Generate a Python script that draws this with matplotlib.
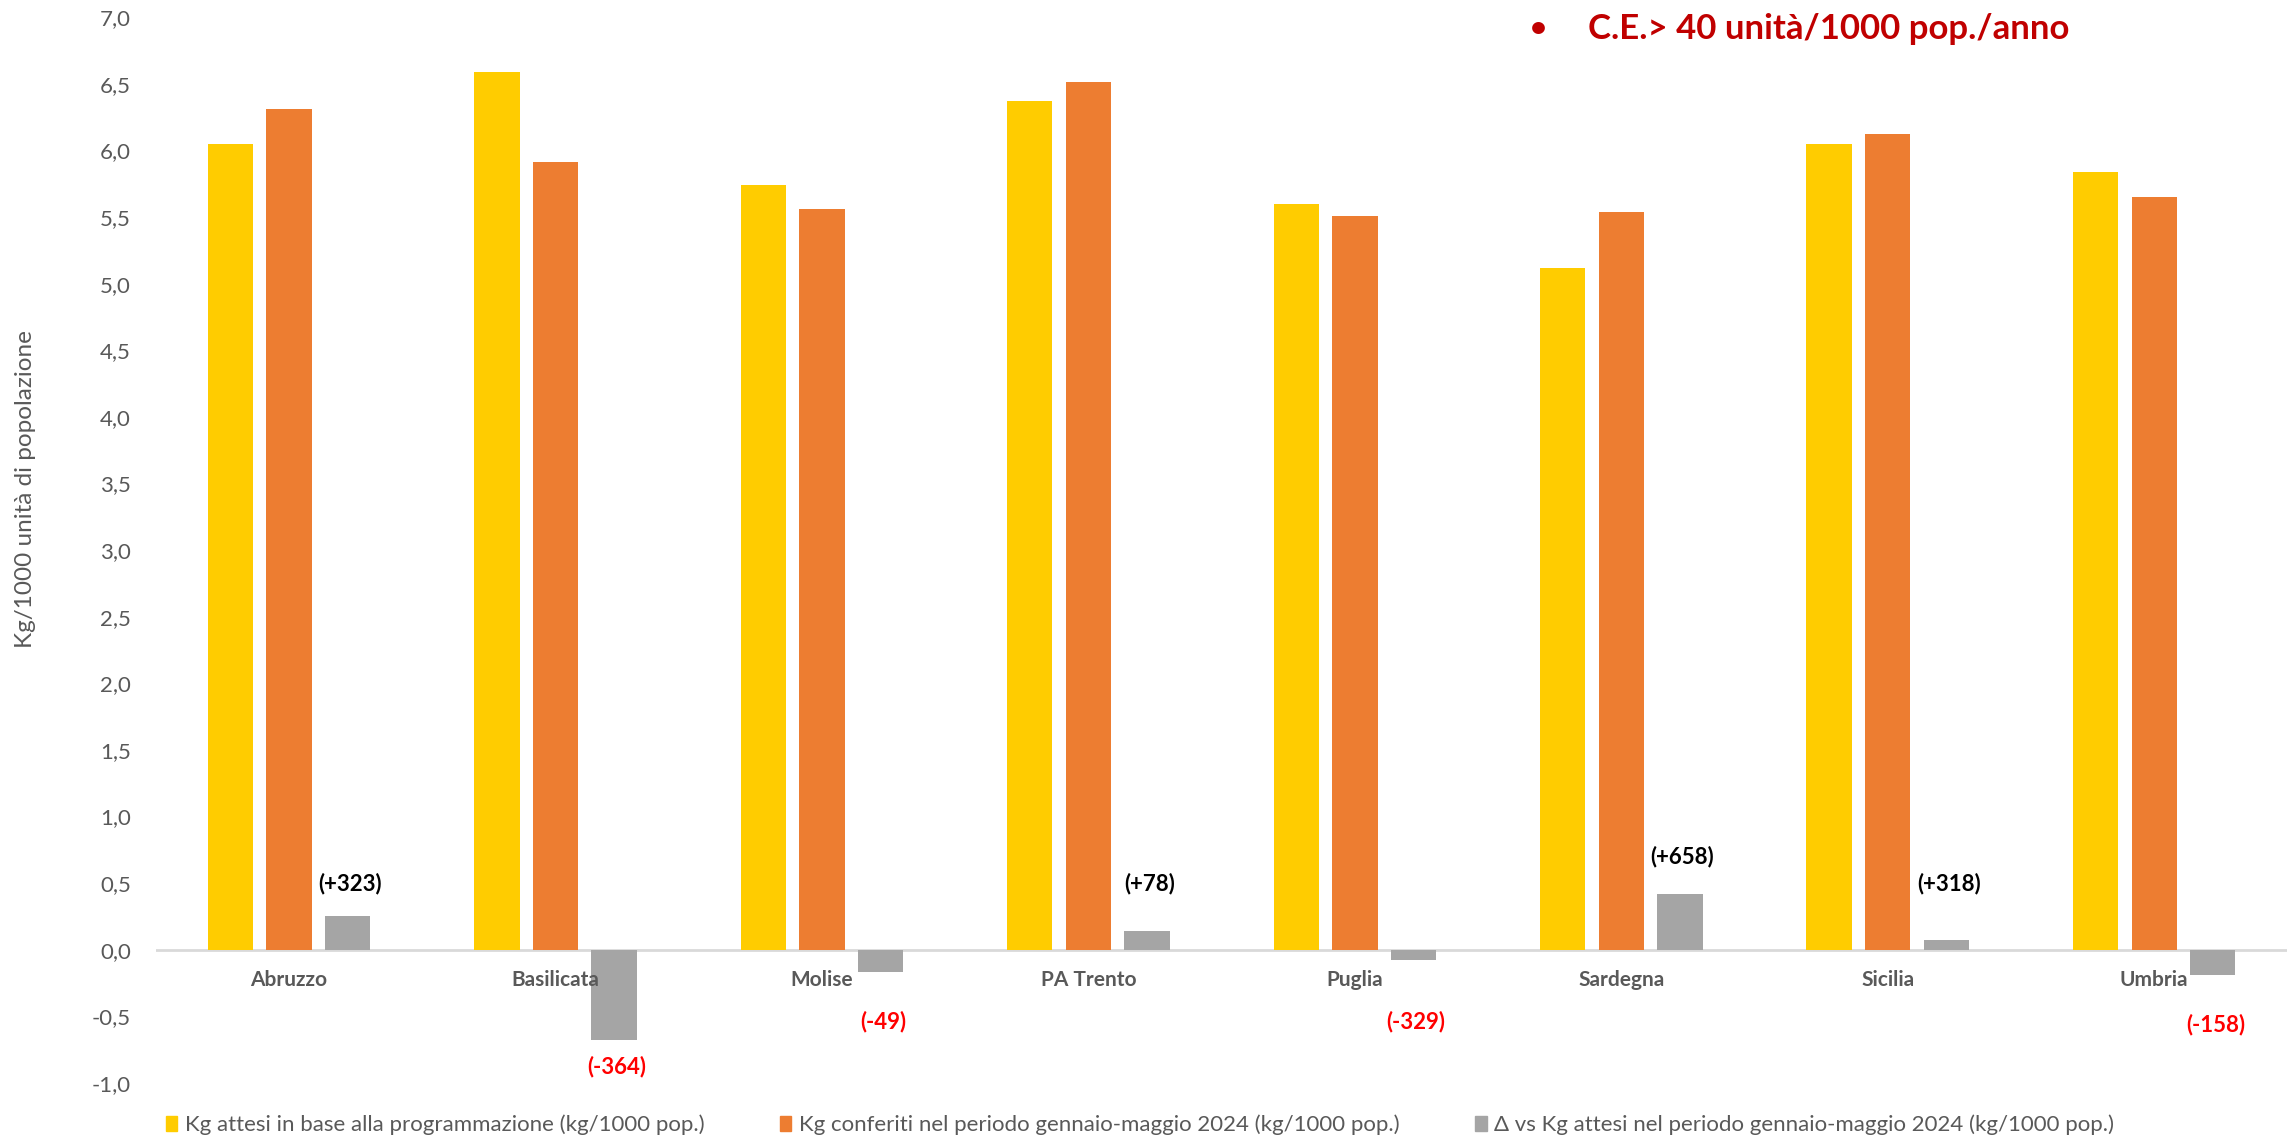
import matplotlib
matplotlib.use("Agg")
import matplotlib.pyplot as plt
from matplotlib.patches import Patch
import numpy as np

# data
regioni = ["Abruzzo", "Basilicata", "Molise", "PA Trento", "Puglia", "Sardegna", "Sicilia", "Umbria"]
kg_attesi = [6.05, 6.59, 5.74, 6.37, 5.60, 5.12, 6.05, 5.84]
kg_conferiti = [6.31, 5.91, 5.56, 6.51, 5.51, 5.54, 6.12, 5.65]
delta = [0.25, -0.68, -0.17, 0.14, -0.08, 0.42, 0.07, -0.19]
delta_labels = ["(+323)", "(-364)", "(-49)", "(+78)", "(-329)", "(+658)", "(+318)", "(-158)"]
delta_label_y = [0.50, -0.88, -0.54, 0.50, -0.54, 0.70, 0.50, -0.56]

serie_nomi = ["Kg attesi in base alla programmazione (kg/1000 pop.)",
              "Kg conferiti nel periodo gennaio-maggio 2024 (kg/1000 pop.)",
              "\u0394 vs Kg attesi nel periodo gennaio-maggio 2024 (kg/1000 pop.)"]
colori = ["#FFCC00", "#ED7D31", "#A5A5A5"]
y_ticks = np.arange(-1.0, 7.01, 0.5)

plt.rcParams['font.family'] = ['Lato', 'DejaVu Sans']

fig = plt.figure(figsize=(22.92, 11.46), dpi=100)
ax = fig.add_axes([0.068, 0.055, 0.93, 0.93])

x = np.arange(len(regioni))
w = 0.17
step = 0.22
for i, serie in enumerate([kg_attesi, kg_conferiti, delta]):
    ax.bar(x + (i - 1) * step, serie, width=w, color=colori[i], zorder=2)

ax.axhline(0, color="#D9D9D9", lw=2, zorder=1)

ax.set_xlim(-0.5, len(regioni) - 0.5)
ax.set_ylim(-1.0, 7.0)
ax.set_yticks(y_ticks)
ax.set_yticklabels([("%.1f" % v).replace(".", ",") for v in y_ticks],
                   fontsize=16, color="#595959")
ax.tick_params(axis="y", length=0, pad=18)
ax.set_xticks([])
for s in ax.spines.values():
    s.set_visible(False)

# category names just under the zero line (Excel style)
for xi, nome in zip(x, regioni):
    ax.text(xi, -0.23, nome, ha="center", va="center", fontsize=15,
            fontweight="bold", color="#595959")

# delta annotations
for xi, lab, yl, d in zip(x, delta_labels, delta_label_y, delta):
    ax.text(xi + step + 0.01, yl, lab, ha="center", va="center", fontsize=16,
            fontweight="bold", color="black" if d >= 0 else "#FF0000")

fig.text(0.011, 0.573, "Kg/1000 unità di popolazione", rotation=90,
         ha="center", va="center", fontsize=17.5, color="#595959")

fig.text(0.671, 0.975, "\u2022", ha="center", va="center", fontsize=21,
         color="#C00000", fontweight="bold")
fig.text(0.693, 0.975, "C.E.> 40 unità/1000 pop./anno", ha="left", va="center",
         fontsize=25, color="#C00000", fontweight="bold")

handles = [Patch(color=c, label=n) for c, n in zip(colori, serie_nomi)]
fig.legend(handles=handles, loc="lower center", bbox_to_anchor=(0.4975, -0.008),
           ncol=3, frameon=False, fontsize=16, handlelength=0.5, handleheight=0.7,
           handletextpad=0.35, columnspacing=3.4, labelcolor="#595959")

fig.savefig("out.png", dpi=100)
